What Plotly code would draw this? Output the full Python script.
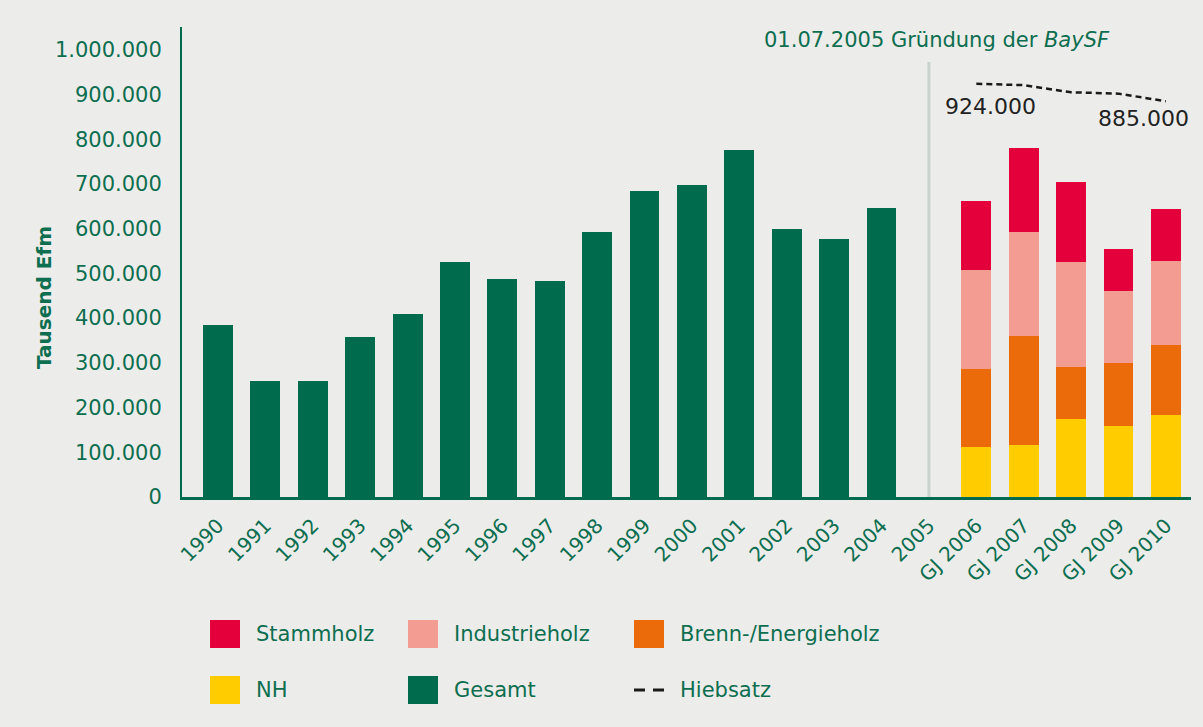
import plotly.graph_objects as go

# ---- data ----
categories = ["1990", "1991", "1992", "1993", "1994", "1995", "1996", "1997", "1998",
              "1999", "2000", "2001", "2002", "2003", "2004", "2005",
              "GJ 2006", "GJ 2007", "GJ 2008", "GJ 2009", "GJ 2010"]

gesamt_years = ["1990", "1991", "1992", "1993", "1994", "1995", "1996", "1997", "1998",
                "1999", "2000", "2001", "2002", "2003", "2004"]
gesamt_values = [385000, 260000, 260000, 358000, 409000, 526000, 488000, 483000, 593000,
                 685000, 698000, 776000, 600000, 577000, 647000]

gj_years = ["GJ 2006", "GJ 2007", "GJ 2008", "GJ 2009", "GJ 2010"]
nh_values = [112000, 116000, 174000, 159000, 183000]
brenn_values = [174000, 244000, 117000, 141000, 157000]
industrie_values = [222000, 233000, 235000, 161000, 188000]
stamm_values = [154000, 188000, 179000, 94000, 116000]

hiebsatz_values = [924000, 921000, 905000, 902000, 885000]
hiebsatz_labels = ["924.000", "885.000"]

founding_category = "2005"

y_tickvals = [0, 100000, 200000, 300000, 400000, 500000, 600000, 700000, 800000, 900000, 1000000]
y_ticktext = ["0", "100.000", "200.000", "300.000", "400.000", "500.000", "600.000",
              "700.000", "800.000", "900.000", "1.000.000"]

legend_names = ["Stammholz", "Industrieholz", "Brenn-/Energieholz", "NH", "Gesamt", "Hiebsatz"]

# ---- styles ----
GREEN = "#006B4D"
TEXT_GREEN = "#0D6E50"
RED = "#E4003A"
PINK = "#F39C91"
ORANGE = "#EB6A0A"
YELLOW = "#FFCC00"
BG = "#ECEDEA"
FONT = "DejaVu Sans"

W, H = 1203, 727
L, R, T, B = 182, 12, 27, 230
PW, PH = W - L - R, H - T - B


def px(xp):
    return (xp - L) / PW


def py(yp):
    return (H - B - yp) / PH


fig = go.Figure()

# founding line at 2005 (drawn as a trace so it uses the category axis)
fc = categories.index(founding_category)
fig.add_shape(type="line", xref="x", yref="y", x0=fc, x1=fc, y0=0, y1=973000,
              line=dict(color="#C9D3CD", width=3), layer="above")

fig.add_trace(go.Bar(x=gesamt_years, y=gesamt_values, name="Gesamt",
                     marker=dict(color=GREEN, line=dict(width=0)), width=0.63))
fig.add_trace(go.Bar(x=gj_years, y=nh_values, name="NH",
                     marker=dict(color=YELLOW, line=dict(width=0)), width=0.63))
fig.add_trace(go.Bar(x=gj_years, y=brenn_values, name="Brenn-/Energieholz",
                     marker=dict(color=ORANGE, line=dict(width=0)), width=0.63))
fig.add_trace(go.Bar(x=gj_years, y=industrie_values, name="Industrieholz",
                     marker=dict(color=PINK, line=dict(width=0)), width=0.63))
fig.add_trace(go.Bar(x=gj_years, y=stamm_values, name="Stammholz",
                     marker=dict(color=RED, line=dict(width=0)), width=0.63))
fig.add_trace(go.Scatter(x=gj_years, y=hiebsatz_values, name="Hiebsatz", mode="lines",
                         line=dict(color="#1a1a1a", width=2.5, dash="6px,4px")))

fig.add_annotation(x=px(1112), xref="paper", y=py(40), yref="paper", xanchor="right",
                   yanchor="middle",
                   text="01.07.2005 Gründung der <i>BaySF</i>", showarrow=False,
                   font=dict(family=FONT, size=21, color=TEXT_GREEN))
fig.add_annotation(x="GJ 2006", y=hiebsatz_values[0], text=hiebsatz_labels[0], showarrow=False,
                   xanchor="center", yanchor="top", yshift=-8, xshift=14,
                   font=dict(family=FONT, size=22, color="#222222"))
fig.add_annotation(x="GJ 2010", y=hiebsatz_values[-1], text=hiebsatz_labels[1], showarrow=False,
                   xanchor="center", yanchor="top", yshift=-3, xshift=-22,
                   font=dict(family=FONT, size=22, color="#222222"))

# y-axis title
fig.add_annotation(xref="paper", yref="paper", x=px(44), y=py(298), textangle=-90,
                   text="<b>Tausend Efm</b>", showarrow=False, xanchor="center",
                   yanchor="middle", font=dict(family=FONT, size=20, color=TEXT_GREEN))

# manual legend
legend_colors = [RED, PINK, ORANGE, YELLOW, GREEN, None]
col_x = [210, 408, 634]
row_y = [634, 690]
for i, (name, col) in enumerate(zip(legend_names, legend_colors)):
    cx = col_x[i % 3]
    cy = row_y[i // 3]
    if col is not None:
        fig.add_shape(type="rect", xref="paper", yref="paper",
                      x0=px(cx), x1=px(cx + 30),
                      y0=py(cy + 14), y1=py(cy - 14),
                      fillcolor=col, line=dict(width=0))
    else:
        fig.add_shape(type="line", xref="paper", yref="paper",
                      x0=px(cx), x1=px(cx + 30),
                      y0=py(cy), y1=py(cy),
                      line=dict(color="#1a1a1a", width=3, dash="11px,8px"))
    fig.add_annotation(xref="paper", yref="paper", x=px(cx + 44),
                       y=py(cy), xanchor="left", yanchor="middle",
                       text=name, showarrow=False,
                       font=dict(family=FONT, size=21, color=TEXT_GREEN))

fig.update_layout(
    width=W, height=H,
    margin=dict(l=L, r=R, t=T, b=B),
    paper_bgcolor=BG, plot_bgcolor=BG,
    barmode="stack", bargap=0.37, showlegend=False,
    font=dict(family=FONT, color=TEXT_GREEN),
    xaxis=dict(type="category", categoryorder="array", categoryarray=categories,
               range=[-0.76, 20.53], tickangle=-45, showgrid=False,
               showline=True, linecolor=GREEN, linewidth=3, ticks="",
               tickfont=dict(family=FONT, size=20, color=TEXT_GREEN),
               ticklabelstandoff=6, zeroline=False),
    yaxis=dict(range=[0, 1051000], tickvals=y_tickvals, ticktext=y_ticktext,
               showgrid=False, zeroline=False, showline=True, linecolor=GREEN, linewidth=2,
               ticks="", ticklabelstandoff=14,
               tickfont=dict(family=FONT, size=21, color=TEXT_GREEN)),
)

fig.write_html("out.html", config={"displayModeBar": False},
               post_script="document.body.style.margin='0';")
